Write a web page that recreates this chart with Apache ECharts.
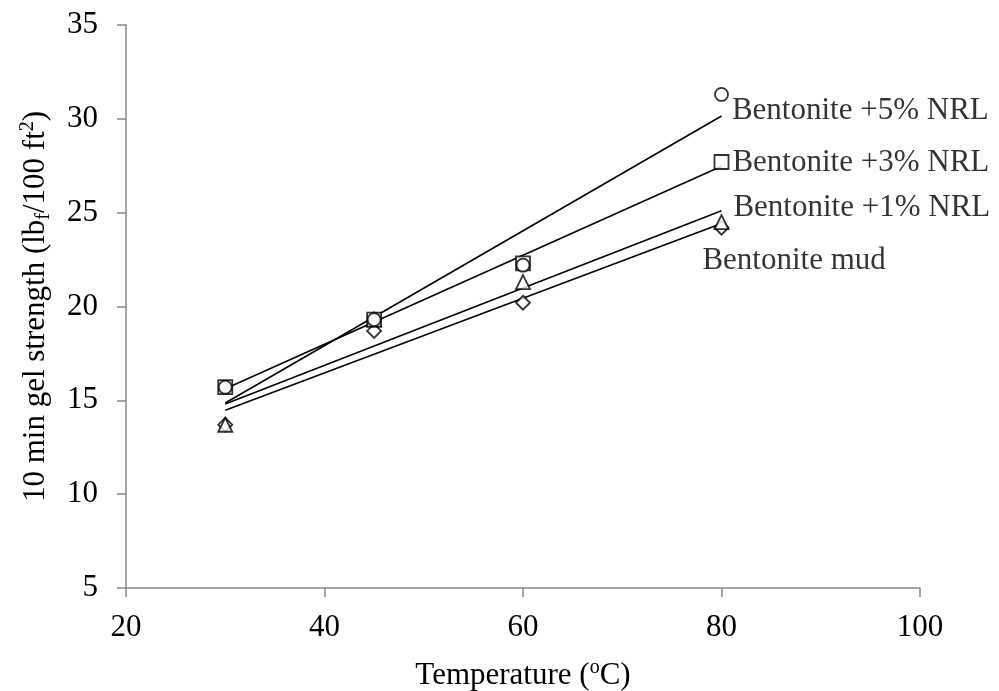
<!DOCTYPE html>
<html>
<head>
<meta charset="utf-8">
<script src="https://cdn.jsdelivr.net/npm/echarts@6/dist/echarts.min.js"></script>
<style>
  html, body { margin: 0; padding: 0; background: #fff; }
  #chart { width: 999px; height: 691px; }
</style>
</head>
<body>
<div id="chart"></div>
<script>
// Temperature (°C) at which each mud was tested
const temperatures = [30, 45, 60, 80];

// 10 min gel strength (lbf/100 ft2) per formulation
const mudValues  = [13.7, 18.7, 20.2, 24.2];
const nrl1Values = [13.7, 19.3, 21.3, 24.5];
const nrl3Values = [15.7, 19.3, 22.3, 27.7];
const nrl5Values = [15.7, 19.3, 22.2, 31.3];

const seriesNames = ['Bentonite mud', 'Bentonite +1% NRL', 'Bentonite +3% NRL', 'Bentonite +5% NRL'];
const seriesSymbols = ['diamond', 'triangle', 'rect', 'circle'];

// Axis ranges
const xMin = 20, xMax = 100, xStep = 20;
const yMin = 5, yMax = 35, yStep = 5;

const FONT = "'Liberation Serif', 'Times New Roman', serif";
const AXIS_GRAY = '#868686';

// Placement of the end-of-line name labels, per series
const labelOffsets = [[-31, 33], [0, -14], [-1, 1], [-1, 16]];

// Least-squares linear trendline through a series
function linearFit(xs, ys) {
  const n = xs.length;
  const mx = xs.reduce((a, b) => a + b, 0) / n;
  const my = ys.reduce((a, b) => a + b, 0) / n;
  let sxy = 0, sxx = 0;
  for (let i = 0; i < n; i++) {
    sxy += (xs[i] - mx) * (ys[i] - my);
    sxx += (xs[i] - mx) * (xs[i] - mx);
  }
  const slope = sxy / sxx;
  return { slope, intercept: my - slope * mx };
}

const allValues = [mudValues, nrl1Values, nrl3Values, nrl5Values];
const series = [];

allValues.forEach((vals, si) => {
  const fit = linearFit(temperatures, vals);
  const x0 = temperatures[0], x1 = temperatures[temperatures.length - 1];
  series.push({
    type: 'line',
    name: seriesNames[si] + ' trend',
    data: [[x0, fit.intercept + fit.slope * x0], [x1, fit.intercept + fit.slope * x1]],
    symbol: 'none',
    silent: true,
    z: 2,
    lineStyle: { color: '#000', width: 1.6 }
  });
});

allValues.forEach((vals, si) => {
  const last = vals.length - 1;
  series.push({
    type: 'scatter',
    name: seriesNames[si],
    symbol: seriesSymbols[si],
    symbolSize: seriesSymbols[si] === 'circle' ? 13 : 14,
    z: 3 + si,
    itemStyle: { color: '#fff', borderColor: '#000', borderWidth: 1.8 },
    data: vals.map((v, i) => {
      const item = { value: [temperatures[i], v] };
      if (i === last) {
        item.label = {
          show: true,
          formatter: seriesNames[si],
          position: 'right',
          distance: 4,
          offset: labelOffsets[si],
          color: '#000',
          fontFamily: FONT,
          fontSize: 31
        };
      }
      return item;
    })
  });
});

const chart = echarts.init(document.getElementById('chart'), null, { renderer: 'canvas' });

chart.setOption({
  animation: false,
  backgroundColor: '#fff',
  grid: { left: 126, right: 79, top: 25, bottom: 103, containLabel: false, outerBoundsMode: 'none' },
  xAxis: {
    type: 'value',
    min: xMin, max: xMax, interval: xStep,
    name: '{t|Temperature (}{sup|o}{t|C)}',
    nameLocation: 'middle',
    nameGap: 70,
    nameTextStyle: {
      rich: {
        t: { fontFamily: FONT, fontSize: 31, color: '#000', lineHeight: 36 },
        sup: { fontFamily: FONT, fontSize: 20, color: '#000', lineHeight: 20, verticalAlign: 'top' }
      }
    },
    axisLine: { lineStyle: { color: AXIS_GRAY, width: 1.5 } },
    axisTick: { show: true, inside: false, length: 9, lineStyle: { color: AXIS_GRAY, width: 1.5 } },
    axisLabel: { color: '#000', fontFamily: FONT, fontSize: 31, margin: 24 },
    splitLine: { show: false }
  },
  yAxis: {
    type: 'value',
    min: yMin, max: yMax, interval: yStep,
    name: '{t|10 min gel strength (lb}{sub|f}{t|/100 ft}{sup|2}{t|)}',
    nameLocation: 'middle',
    nameRotate: 90,
    nameGap: 72,
    nameTextStyle: {
      rich: {
        t: { fontFamily: FONT, fontSize: 31, color: '#000', lineHeight: 36 },
        sub: { fontFamily: FONT, fontSize: 20, color: '#000', lineHeight: 20, verticalAlign: 'bottom' },
        sup: { fontFamily: FONT, fontSize: 20, color: '#000', lineHeight: 20, verticalAlign: 'top' }
      }
    },
    axisLine: { show: true, lineStyle: { color: AXIS_GRAY, width: 1.5 } },
    axisTick: { show: true, inside: false, length: 9, lineStyle: { color: AXIS_GRAY, width: 1.5 } },
    axisLabel: { color: '#000', fontFamily: FONT, fontSize: 31, margin: 28 },
    splitLine: { show: false }
  },
  series: series
});
</script>
</body>
</html>
